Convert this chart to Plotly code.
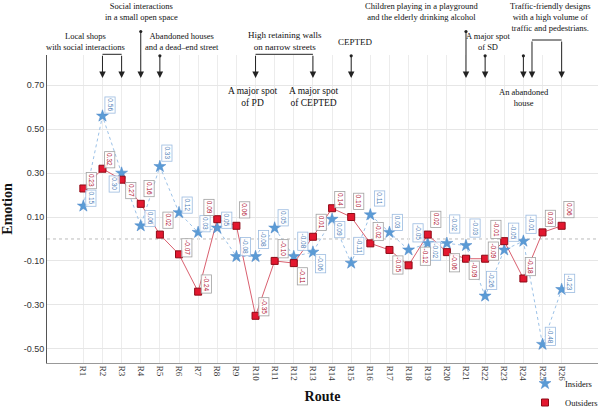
import plotly.graph_objects as go

# ---------------- data ----------------
routes = ["R1", "R2", "R3", "R4", "R5", "R6", "R7", "R8", "R9", "R10", "R11", "R12", "R13",
          "R14", "R15", "R16", "R17", "R18", "R19", "R20", "R21", "R22", "R23", "R24", "R25", "R26"]
insiders = [0.15, 0.56, 0.30, 0.06, 0.33, 0.12, 0.03, 0.05, -0.08, -0.08, 0.05, -0.08, -0.06,
            0.09, -0.11, 0.11, 0.03, -0.05, -0.02, -0.02, -0.03, -0.26, -0.05, -0.01, -0.48, -0.23]
outsiders = [0.23, 0.32, 0.27, 0.16, 0.02, -0.07, -0.24, 0.09, 0.06, -0.35, -0.10, -0.11, 0.01,
             0.14, 0.10, -0.02, -0.05, -0.12, 0.02, -0.06, -0.09, -0.09, -0.01, -0.18, 0.03, 0.06]
y_tick_values = [-0.50, -0.30, -0.10, 0.10, 0.30, 0.50, 0.70]
y_tick_labels = ["-0.50", "-0.30", "-0.10", "0.10", "0.30", "0.50", "0.70"]

# ---------------- label placement (pixel offsets: dx right, dy down) ----------------
ins_off = [(8, -8), (8, -11), (-7, 11), (9, -7), (7, -13), (8, -8), (7, -9), (9, -8), (9, -10),
           (8, -17), (8, -10), (9, -15), (8, 12), (8, 10), (8, -17), (9, -16), (8, -10), (9, -17),
           (8, 8), (8, -19), (9, -17), (7, -16), (9, -18), (8, -17), (8, -8), (8, -6)]
out_off = [(8, -8), (7, -9), (9, 11), (8, -15), (8, -14), (8, -7), (8, -8), (-8, -12), (8, -16),
           (8, -9), (8, -12), (9, 13), (8, -14), (8, -9), (8, -16), (8, -12), (8, 15), (17, -9),
           (8, -15), (8, 11), (8, 12), (8, -8), (-8, -12), (7, -12), (8, -14), (7, -16)]

# ---------------- geometry ----------------
W, H = 602, 409
ML, MR, MT, MB = 47, 4, 55, 46
PW = W - ML - MR
PH = H - MT - MB


def px_paper_x(px):
    return (px - ML) / PW


def px_paper_y(py):
    return (H - MB - py) / PH


RED = "#e3172f"
RED_DARK = "#8e0a16"
RED_LINE = "#d9606f"
BLUE = "#5b9bd5"
BLUE_LINE = "#9cc2e8"
SERIF = "Liberation Serif"
SANS = "Liberation Sans"

fig = go.Figure()

# connecting lines
fig.add_trace(go.Scatter(x=routes, y=insiders, mode="lines", showlegend=False,
                         line=dict(color=BLUE_LINE, width=1, dash="dot"), hoverinfo="skip"))
fig.add_trace(go.Scatter(x=routes, y=outsiders, mode="lines", showlegend=False,
                         line=dict(color=RED_LINE, width=1), hoverinfo="skip"))
# markers
fig.add_trace(go.Scatter(x=routes, y=insiders, mode="markers", name="Insiders",
                         marker=dict(symbol="star", size=9, color=BLUE,
                                     line=dict(color="#4a86c8", width=0.5))))
fig.add_trace(go.Scatter(x=routes, y=outsiders, mode="markers", name="Outsiders",
                         marker=dict(symbol="square", size=7, color=RED,
                                     line=dict(color=RED_DARK, width=1))))

annotations = []

# data labels
for i, (r, v) in enumerate(zip(routes, insiders)):
    dx, dy = ins_off[i]
    annotations.append(dict(x=i, y=v, xref="x", yref="y", text=f"{v:.2f}", showarrow=False,
                            textangle=90, xshift=dx, yshift=-dy,
                            font=dict(family=SANS, size=6.5, color="#4f7fb8"),
                            bgcolor="rgba(255,255,255,0.85)", bordercolor="#9bbbe0",
                            borderwidth=0.8, borderpad=1))
for i, (r, v) in enumerate(zip(routes, outsiders)):
    dx, dy = out_off[i]
    annotations.append(dict(x=i, y=v, xref="x", yref="y", text=f"{v:.2f}", showarrow=False,
                            textangle=90, xshift=dx, yshift=-dy,
                            font=dict(family=SANS, size=6.5, color="#b0102e"),
                            bgcolor="rgba(255,255,255,0.85)", bordercolor="#a0a0a0",
                            borderwidth=0.8, borderpad=1))

# descriptive texts
texts = [
    ("Local shops<br>with social interactions", 85, 41, 8.5),
    ("Social interactions<br>in a small open space", 141, 11, 8.5),
    ("Abandoned houses<br>and a dead\u2013end street", 182, 41, 8.5),
    ("High retaining walls<br>on narrow streets", 285, 41, 9),
    ("A major spot<br>of PD", 252, 97, 9.5),
    ("A major spot<br>of CEPTED", 313, 97, 9.5),
    ("CEPTED", 355, 42, 9),
    ("Children playing in a playground<br>and the elderly drinking alcohol", 422, 11, 8.5),
    ("A major spot<br>of SD", 488, 41, 8.5),
    ("Traffic-friendly designs<br>with a high volume of<br>traffic and pedestrians.", 550, 17, 8.5),
    ("An abandoned<br>house", 524, 97, 8.5),
]
for t, cx, cy, fs in texts:
    annotations.append(dict(x=px_paper_x(cx), y=px_paper_y(cy), xref="paper", yref="paper",
                            text=t, showarrow=False, xanchor="center", yanchor="middle",
                            font=dict(family=SERIF, size=fs, color="#111")))

# arrows: (route index position, tail pixel y, with dot)
TIP_Y = 78
arrows = [
    (routes.index("R2"), 54.3, False), (routes.index("R3"), 54.3, False),
    (routes.index("R4"), 30, True), (routes.index("R5"), 54.3, True),
    (routes.index("R10"), 54.3, False), (routes.index("R13"), 54.3, False),
    (routes.index("R15"), 54.3, True), (routes.index("R21"), 30, True),
    (routes.index("R22"), 54.3, True), (routes.index("R24"), 54.3, True),
    (routes.index("R24") + 0.45, 40, False), (routes.index("R26"), 40, False),
]
for xi, tail, dot in arrows:
    a = dict(x=xi, y=px_paper_y(TIP_Y), xref="x", yref="paper", text="", showarrow=True,
             ax=0, ay=-(TIP_Y - tail), arrowhead=2, arrowsize=1.3, arrowwidth=1,
             arrowcolor="#222", standoff=0)
    if dot:
        a.update(arrowside="end+start", startarrowhead=6, startarrowsize=0.8, startstandoff=0)
    annotations.append(a)

shapes = []
# bracket horizontals
for x0, x1, py in [(routes.index("R2"), routes.index("R3"), 54.3),
                   (routes.index("R10"), routes.index("R13"), 54.3),
                   (routes.index("R24") + 0.45, routes.index("R26"), 40)]:
    shapes.append(dict(type="line", xref="x", yref="paper", x0=x0, x1=x1,
                       y0=px_paper_y(py), y1=px_paper_y(py), line=dict(color="#222", width=1)))
# dashed reference line at zero
shapes.append(dict(type="line", xref="paper", yref="y", x0=0, x1=1, y0=0, y1=0,
                   line=dict(color="#bbbbbb", width=1, dash="dot"), layer="below"))

fig.update_layout(
    template="none",
    width=W, height=H,
    margin=dict(l=ML, r=MR, t=MT, b=MB, pad=0, autoexpand=False),
    plot_bgcolor="white", paper_bgcolor="white",
    annotations=annotations, shapes=shapes,
    showlegend=True,
    legend=dict(x=px_paper_x(525), y=px_paper_y(369), xanchor="left", yanchor="top",
                bgcolor="rgba(0,0,0,0)", font=dict(family=SERIF, size=8.5, color="#111"),
                itemwidth=30, tracegroupgap=0),
    xaxis=dict(type="category", categoryorder="array", categoryarray=routes,
               range=[-1.9, 26.9], tickangle=90, automargin=False,
               tickfont=dict(family=SERIF, size=9, color="#333"),
               showgrid=True, gridcolor="#ececec", gridwidth=1,
               showline=True, linecolor="#999", linewidth=1, ticks="", zeroline=False,
               title=dict(text="<b>Route</b>", standoff=10,
                          font=dict(family=SERIF, size=14, color="#111"))),
    yaxis=dict(range=[-0.565, 0.838], tickvals=y_tick_values, ticktext=y_tick_labels,
               automargin=False, tickfont=dict(family=SANS, size=9, color="#333"),
               showgrid=True, gridcolor="#e6e6e6", gridwidth=1, zeroline=False,
               showline=True, linecolor="#555", linewidth=1, ticks="",
               title=dict(text="<b>Emotion</b>", standoff=14,
                          font=dict(family=SERIF, size=14, color="#111"))),
)

fig.write_html("out.html", config={"displayModeBar": False},
               post_script="document.body.style.margin='0';document.body.style.overflow='hidden';")
